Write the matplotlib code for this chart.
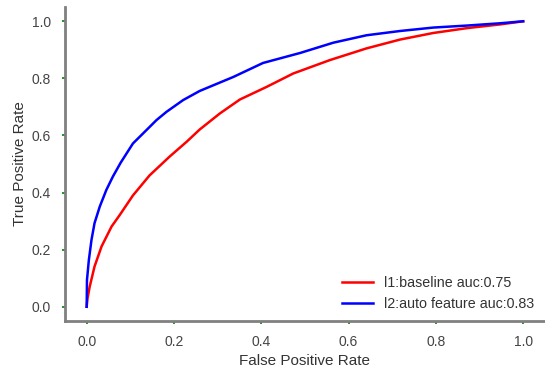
import matplotlib
matplotlib.use("Agg")
import matplotlib.pyplot as plt

fpr_l1 = [0.0, 0.002, 0.007, 0.018, 0.034, 0.057, 0.076, 0.106, 0.144, 0.190, 0.229, 0.259, 0.305, 0.351, 0.412, 0.473, 0.557, 0.641, 0.718, 0.794, 0.871, 0.947, 1.0]
tpr_l1 = [0.0, 0.030, 0.071, 0.141, 0.211, 0.281, 0.322, 0.390, 0.460, 0.526, 0.578, 0.621, 0.677, 0.726, 0.770, 0.817, 0.864, 0.905, 0.936, 0.959, 0.976, 0.989, 1.0]
fpr_l2 = [0.0, 0.0007, 0.005, 0.011, 0.018, 0.030, 0.045, 0.060, 0.078, 0.106, 0.137, 0.160, 0.183, 0.221, 0.259, 0.336, 0.404, 0.489, 0.565, 0.641, 0.718, 0.794, 0.871, 0.947, 1.0]
tpr_l2 = [0.0, 0.094, 0.164, 0.234, 0.293, 0.351, 0.409, 0.456, 0.505, 0.572, 0.619, 0.654, 0.683, 0.724, 0.756, 0.805, 0.854, 0.889, 0.925, 0.951, 0.966, 0.978, 0.985, 0.993, 1.0]
label_l1 = "l1:baseline auc:0.75"
label_l2 = "l2:auto feature auc:0.83"
ticks = [0.0, 0.2, 0.4, 0.6, 0.8, 1.0]

plt.rcParams['font.family'] = ['Liberation Sans', 'DejaVu Sans']
fig = plt.figure(figsize=(5.45, 3.69), dpi=100)
ax = fig.add_axes([0.119, 0.130, 0.881, 0.851])
ax.plot(fpr_l1, tpr_l1, color='red', lw=1.8, label=label_l1)
ax.plot(fpr_l2, tpr_l2, color='blue', lw=1.8, label=label_l2)
ax.set_xlim(-0.05, 1.05)
ax.set_ylim(-0.05, 1.05)
ax.set_xticks(ticks)
ax.set_yticks(ticks)
ax.set_xticklabels([f"{t:.1f}" for t in ticks])
ax.set_yticklabels([f"{t:.1f}" for t in ticks])
ax.tick_params(length=2, width=1.2, color='green', labelcolor='#444444', labelsize=10, pad=8)
for s in ['top', 'right']:
    ax.spines[s].set_visible(False)
for s in ['left', 'bottom']:
    ax.spines[s].set_color('#808080')
    ax.spines[s].set_linewidth(2)
ax.set_xlabel("False Positive Rate", fontsize=11, color='#333333', labelpad=4)
ax.set_ylabel("True Positive Rate", fontsize=11, color='#333333', labelpad=3)
ax.legend(loc='lower right', frameon=False, fontsize=10.3, labelcolor='#333333',
          handlelength=2.2, borderaxespad=0.32)
fig.savefig("out.png", dpi=100)
